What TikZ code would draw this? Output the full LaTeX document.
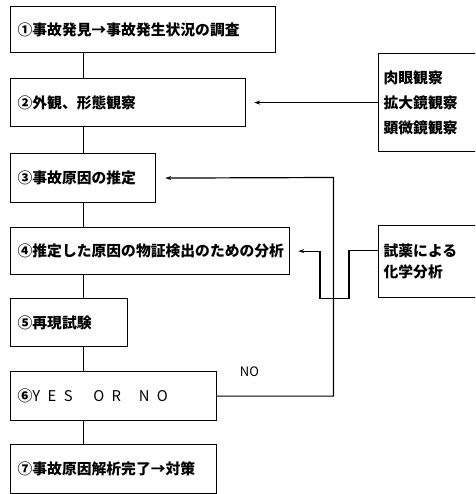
\documentclass[tikz,border=0pt]{standalone}
\usepackage{fontspec}
\setmainfont{Noto Sans CJK JP}
\usetikzlibrary{arrows.meta}

\begin{document}
\begin{tikzpicture}[x=1pt,y=-1pt,>={Stealth[length=6pt,width=4pt]},line width=1.2pt,
    box/.style={draw,anchor=north west,inner xsep=7pt,align=left,font=\fontsize{14.8}{18}\selectfont\bfseries},
    side/.style={box,text width=120pt,inner xsep=5pt}]
  \useasboundingbox (0,0) rectangle (475,494);
  \clip (0,0) rectangle (475,494);
  % main steps
  \node[box,text width=251pt,minimum height=46pt] (find) at (10,6) {①事故発見→事故発生状況の調査};
  \node[box,text width=221pt,minimum height=48pt] (look) at (10,78) {②外観、形態観察};
  \node[box,text width=131pt,minimum height=49pt] (guess) at (10,153) {③事故原因の推定};
  \node[box,text width=265pt,minimum height=47pt] (proof) at (10,227) {④推定した原因の物証検出のための分析};
  \node[box,text width=103pt,minimum height=48pt] (redo) at (10,298) {⑤再現試験};
  \node[box,text width=192pt,minimum height=49pt] (yesno) at (10,371) {⑥\mdseries Y\enspace E\enspace S\hspace{1.4em}O\enspace R\hspace{1.2em}N\enspace O};
  \node[box,text width=192pt,minimum height=49pt] (done) at (10,444) {⑦事故原因解析完了→対策};
  % side boxes
  \node[side,minimum height=98pt,font=\fontsize{14.8}{25}\selectfont\bfseries] (eye) at (378,53) {肉眼観察\\拡大鏡観察\\顕微鏡観察};
  \node[side,minimum height=72pt,font=\fontsize{14.8}{21}\selectfont\bfseries] (reagent) at (378,225) {試薬による\\化学分析};
  \node[anchor=west,font=\fontsize{13}{15}\selectfont] (no) at (236,372) {NO};
  \foreach \a/\b in {find/look,look/guess,guess/proof,proof/redo,redo/yesno,yesno/done}
    \draw (\a.south -| guess) -- (\b.north -| guess);
  \draw[->,shorten >=8pt] (eye.west) -- (eye.west -| look.east);
  \coordinate (loop) at (333.5,177.5);
  \draw[->,shorten >=9pt] (yesno.east) -| (loop) -- (guess.east);
  \draw[->,shorten >=8pt] ([yshift=11pt]reagent.west) -- ++(-29,0) -- ++(0,48) -- ++(-29,0) |- (proof.east);
\end{tikzpicture}
\end{document}
